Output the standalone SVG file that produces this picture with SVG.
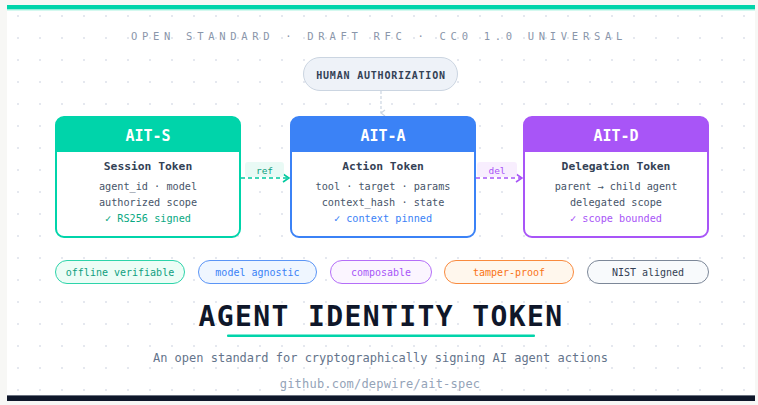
<svg xmlns="http://www.w3.org/2000/svg" width="758" height="405" viewBox="0 0 758 405">
<defs>
<pattern id="dots" x="7" y="5" width="22" height="22" patternUnits="userSpaceOnUse">
<rect x="10.2" y="10.2" width="1.6" height="1.6" fill="#d6dce7"/>
</pattern>
<marker id="arrTeal" viewBox="0 0 8 10" refX="7" refY="5" markerWidth="8" markerHeight="10" markerUnits="userSpaceOnUse" orient="auto">
<path d="M1,1 L7,5 L1,9" fill="none" stroke="#00c99f" stroke-width="1.6"/>
</marker>
<marker id="arrPurple" viewBox="0 0 8 10" refX="7" refY="5" markerWidth="8" markerHeight="10" markerUnits="userSpaceOnUse" orient="auto">
<path d="M1,1 L7,5 L1,9" fill="none" stroke="#a855f7" stroke-width="1.6"/>
</marker>
<marker id="arrGray" viewBox="0 0 8 6" refX="4" refY="5" markerWidth="8" markerHeight="6" markerUnits="userSpaceOnUse" orient="auto">
<path d="M1,1 L4,5 L7,1" fill="none" stroke="#cbd5e1" stroke-width="1.2"/>
</marker>
</defs>
<style>
text{font-family:"DejaVu Sans Mono","Liberation Mono",monospace}
.title{font-size:15px;font-weight:bold;fill:#ffffff;text-anchor:middle}
.sub{font-size:11.3px;font-weight:bold;fill:#334155;text-anchor:middle}
.line{font-size:10.2px;fill:#475569;text-anchor:middle}
.chk{font-size:10.2px;text-anchor:middle}
.tag{font-size:10px;text-anchor:middle}
.body{fill:#ffffff;stroke-width:2}
</style>
<rect x="0" y="0" width="758" height="405" fill="#f7f7f5"/>
<rect x="7" y="5" width="748" height="396" fill="#ffffff"/>
<rect x="7" y="5" width="748" height="396" fill="url(#dots)"/>
<rect x="7" y="5" width="748" height="4.5" fill="#00d4aa"/>
<rect x="7" y="9.5" width="748" height="1" fill="#a7f3e0"/>
<rect x="7" y="395" width="748" height="1.2" fill="#6b7280"/>
<rect x="7" y="396" width="748" height="5" fill="#0f172a"/>

<text x="131" y="40" font-size="10.5" fill="#8a96aa" letter-spacing="4.7">OPEN STANDARD · DRAFT RFC · CC0 1.0 UNIVERSAL</text>

<g id="connectors">
<line x1="381" y1="91" x2="381" y2="113" stroke="#cbd5e1" stroke-width="1.2" stroke-dasharray="3,2" marker-end="url(#arrGray)"/>
<line x1="241" y1="178" x2="289" y2="178" stroke="#00c99f" stroke-width="1.4" stroke-dasharray="4,3" marker-end="url(#arrTeal)"/>
<rect x="245" y="162" width="39" height="15" rx="3" fill="#e8faf4" opacity="0.95"/>
<text x="264.5" y="174" font-size="9.5" fill="#0f9f7f" text-anchor="middle">ref</text>
<line x1="476" y1="178" x2="522" y2="178" stroke="#a855f7" stroke-width="1.4" stroke-dasharray="4,3" marker-end="url(#arrPurple)"/>
<rect x="477" y="162" width="40" height="15" rx="3" fill="#f8edfe" opacity="0.95"/>
<text x="497" y="174" font-size="9.5" fill="#a855f7" text-anchor="middle">del</text>
</g>

<g id="human-authorization">
<rect x="303.5" y="57.5" width="154" height="33" rx="16.5" fill="#eef2f8" stroke="#cbd5e1" stroke-width="1"/>
<text x="381" y="79" font-size="10" font-weight="bold" fill="#334155" text-anchor="middle" letter-spacing="0.8">HUMAN AUTHORIZATION</text>
</g>

<g id="ait-s">
<rect x="56" y="117" width="184" height="120" rx="8" class="body" stroke="#00d4aa"/>
<path d="M56,152 V125 a8,8 0 0 1 8,-8 H232 a8,8 0 0 1 8,8 V152 Z" fill="#00d4aa"/>
<text x="148" y="141" class="title">AIT-S</text>
<text x="148" y="170" class="sub">Session Token</text>
<text x="148" y="189.5" class="line">agent_id · model</text>
<text x="148" y="205.5" class="line">authorized scope</text>
<text x="148" y="222" class="chk" fill="#0aa882">✓ RS256 signed</text>
</g>

<g id="ait-a">
<rect x="291" y="117" width="184" height="120" rx="8" class="body" stroke="#3b82f6"/>
<path d="M291,152 V125 a8,8 0 0 1 8,-8 H467 a8,8 0 0 1 8,8 V152 Z" fill="#3b82f6"/>
<text x="383" y="141" class="title">AIT-A</text>
<text x="383" y="170" class="sub">Action Token</text>
<text x="383" y="189.5" class="line">tool · target · params</text>
<text x="383" y="205.5" class="line">context_hash · state</text>
<text x="383" y="222" class="chk" fill="#3b82f6">✓ context pinned</text>
</g>

<g id="ait-d">
<rect x="524" y="117" width="184" height="120" rx="8" class="body" stroke="#a855f7"/>
<path d="M524,152 V125 a8,8 0 0 1 8,-8 H700 a8,8 0 0 1 8,8 V152 Z" fill="#a855f7"/>
<text x="616" y="141" class="title">AIT-D</text>
<text x="616" y="170" class="sub">Delegation Token</text>
<text x="616" y="189.5" class="line">parent → child agent</text>
<text x="616" y="205.5" class="line">delegated scope</text>
<text x="616" y="222" class="chk" fill="#a855f7">✓ scope bounded</text>
</g>

<g id="tag-offline">
<rect x="55.5" y="260.5" width="129" height="23" rx="11.5" fill="#ecfdf6" stroke="#2dd4aa" stroke-width="1"/>
<text x="120" y="275.5" class="tag" fill="#0f9f7f">offline verifiable</text>
</g>
<g id="tag-model">
<rect x="198.5" y="260.5" width="118" height="23" rx="11.5" fill="#eff6ff" stroke="#5b95f6" stroke-width="1"/>
<text x="257.5" y="275.5" class="tag" fill="#3b82f6">model agnostic</text>
</g>
<g id="tag-composable">
<rect x="330.5" y="260.5" width="101" height="23" rx="11.5" fill="#fbf5ff" stroke="#b46ef8" stroke-width="1"/>
<text x="381" y="275.5" class="tag" fill="#a855f7">composable</text>
</g>
<g id="tag-tamper">
<rect x="444.5" y="260.5" width="129" height="23" rx="11.5" fill="#fff7ed" stroke="#f98a3e" stroke-width="1"/>
<text x="509" y="275.5" class="tag" fill="#f97316">tamper-proof</text>
</g>
<g id="tag-nist">
<rect x="587.5" y="260.5" width="121" height="23" rx="11.5" fill="#f8fafc" stroke="#7c8798" stroke-width="1"/>
<text x="648" y="275.5" class="tag" fill="#334155">NIST aligned</text>
</g>

<text x="381" y="326" font-size="28" font-weight="bold" fill="#0f172a" text-anchor="middle" letter-spacing="1.4">AGENT IDENTITY TOKEN</text>
<rect x="227" y="334.5" width="308" height="2.5" rx="1" fill="#00d4aa"/>
<text x="380.5" y="362" font-size="12" fill="#64748b" text-anchor="middle">An open standard for cryptographically signing AI agent actions</text>
<text x="380" y="388" font-size="12" fill="#94a3b8" text-anchor="middle" letter-spacing="0.2">github.com/depwire/ait-spec</text>
</svg>
